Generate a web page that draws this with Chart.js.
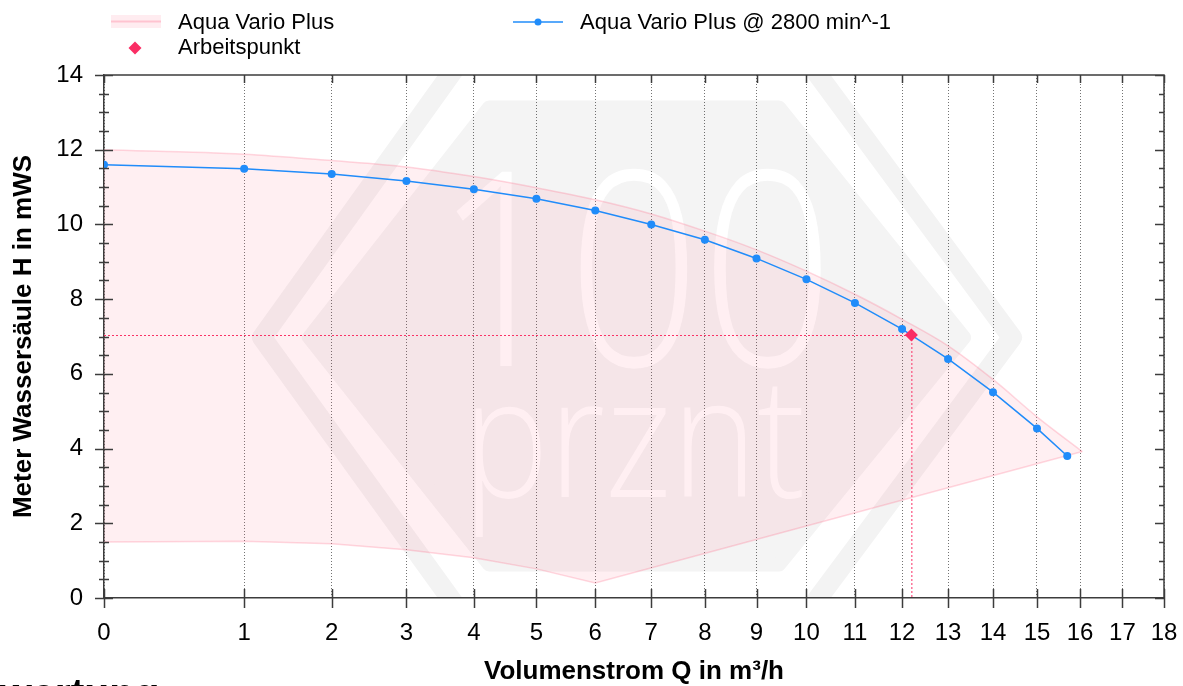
<!DOCTYPE html>
<html>
<head>
<meta charset="utf-8">
<title>Aqua Vario Plus Kennlinie</title>
<script src="https://cdn.jsdelivr.net/npm/chart.js@4.4.1/dist/chart.umd.min.js"></script>
<style>
    html, body { margin: 0; padding: 0; background: #fff; overflow: hidden; }
    #wrap { position: relative; width: 1183px; height: 686px; }
    #pumpChart { position: absolute; left: 0; top: 0; }
    .next-heading {
        position: absolute; left: 0; top: 673px; margin: 0;
        font: bold 41px "Liberation Sans", Arial, sans-serif; line-height: 1;
        color: #000; white-space: nowrap;
    }
</style>
</head>
<body>
<div id="wrap">
    <canvas id="pumpChart" width="1183" height="686"></canvas>
    <div class="next-heading">wertung</div>
</div>
<script>
// Values
const flowTickValues = [0, 1, 2, 3, 4, 5, 6, 7, 8, 9, 10, 11, 12, 13, 14, 15, 16, 17, 18];
const headTickValues = [0, 2, 4, 6, 8, 10, 12, 14];

// pump curve at 2800 min^-1
const pumpQ = [0, 1, 2, 3, 4, 5, 6, 7, 8, 9, 10, 11, 12, 13, 14, 15, 15.7];
const pumpH = [11.60, 11.49, 11.35, 11.16, 10.94, 10.69, 10.37, 10.00, 9.59, 9.09, 8.53, 7.90, 7.20, 6.40, 5.51, 4.54, 3.80];

// operating range of the pump (upper and lower edge)
const rangeUpperQ = [0, 1, 2, 3, 4, 5, 6, 7, 8, 9, 10, 11, 12, 13, 14, 15, 16.05];
const rangeUpperH = [12.00, 11.88, 11.71, 11.54, 11.28, 10.98, 10.66, 10.28, 9.82, 9.32, 8.75, 8.13, 7.46, 6.75, 5.85, 4.85, 3.92];
const rangeLowerQ = [0, 1, 2, 3, 4, 5, 6, 16.05];
const rangeLowerH = [1.50, 1.52, 1.45, 1.29, 1.08, 0.78, 0.40, 3.92];

// Arbeitspunkt
const dutyQ = [12.2];
const dutyH = [7.04];

const FONT = '"Liberation Sans", Arial, Helvetica, sans-serif';
const AXIS_COLOR = '#3c3c3c';
const BLUE = 'rgb(32, 140, 250)';
const RED = 'rgb(250, 45, 100)';
const RANGE_LINE = 'rgba(255, 99, 132, 0.25)';
const RANGE_FILL = 'rgba(255, 99, 132, 0.1)';
const FLOW_EXP = 0.7; // the flow axis is compressed, pixel ~ Q^0.7
const HEAD_MINOR_STEP = 0.5;

const toPoints = (xs, ys) => xs.map((x, i) => ({ x: x, y: ys[i] }));

// power scale for the flow axis
class PowScale extends Chart.LinearScale {
    getPixelForValue(value) {
        if (value === null || value === undefined || isNaN(value)) return NaN;
        const lo = Math.pow(this.min, FLOW_EXP);
        const hi = Math.pow(this.max, FLOW_EXP);
        return this.getPixelForDecimal((Math.pow(Math.max(value, 0), FLOW_EXP) - lo) / (hi - lo));
    }
    getValueForPixel(pixel) {
        const lo = Math.pow(this.min, FLOW_EXP);
        const hi = Math.pow(this.max, FLOW_EXP);
        return Math.pow(lo + this.getDecimalForPixel(pixel) * (hi - lo), 1 / FLOW_EXP);
    }
}
PowScale.id = 'pow';
PowScale.defaults = Chart.LinearScale.defaults;
Chart.register(PowScale);

// light "100 prznt" logo behind the plot
const watermark = {
    id: 'watermark',
    beforeDraw(chart) {
        const { ctx, chartArea: a } = chart;
        const cx = (a.left + a.right) / 2;
        const cy = (a.top + a.bottom) / 2;
        ctx.save();
        ctx.beginPath();
        ctx.rect(a.left, a.top, a.right - a.left, a.bottom - a.top);
        ctx.clip();
        ctx.lineJoin = 'round';

        // outer band
        ctx.strokeStyle = '#f3f3f3';
        ctx.lineWidth = 20;
        ctx.beginPath();
        ctx.moveTo(cx - 172, cy - 278);
        ctx.lineTo(cx + 172, cy - 278);
        ctx.lineTo(cx + 378, cy + 1);
        ctx.lineTo(cx + 172, cy + 278);
        ctx.lineTo(cx - 172, cy + 278);
        ctx.lineTo(cx - 372, cy + 1);
        ctx.closePath();
        ctx.stroke();

        // inner plate
        ctx.fillStyle = '#f4f4f4';
        ctx.strokeStyle = '#f4f4f4';
        ctx.lineWidth = 14;
        ctx.beginPath();
        ctx.moveTo(cx - 145, cy - 229);
        ctx.lineTo(cx + 145, cy - 229);
        ctx.lineTo(cx + 330, cy + 1);
        ctx.lineTo(cx + 145, cy + 228);
        ctx.lineTo(cx - 145, cy + 228);
        ctx.lineTo(cx - 325, cy + 1);
        ctx.closePath();
        ctx.fill();
        ctx.stroke();

        // logo text
        ctx.fillStyle = '#ffffff';
        ctx.textAlign = 'center';
        ctx.textBaseline = 'alphabetic';
        ctx.translate(cx, 0);
        ctx.scale(0.86, 1);
        ctx.font = '350 272px "Open Sans", Roboto, sans-serif';
        ctx.fillText('100', 0, 366);
        ctx.font = '350 168px "Open Sans", Roboto, sans-serif';
        ctx.fillText('prznt', 0, 497);
        ctx.restore();
    }
};

// dashed guides from the axes to the Arbeitspunkt
const dutyGuides = {
    id: 'dutyGuides',
    beforeDatasetsDraw(chart) {
        const { ctx, chartArea: a, scales: { x, y } } = chart;
        ctx.save();
        ctx.strokeStyle = RED;
        ctx.lineWidth = 1;
        ctx.setLineDash([2, 2]);
        dutyQ.forEach((q, i) => {
            const px = x.getPixelForValue(q);
            const py = y.getPixelForValue(dutyH[i]);
            ctx.beginPath();
            ctx.moveTo(a.left, py + 0.5);
            ctx.lineTo(px, py + 0.5);
            ctx.moveTo(px + 0.5, py);
            ctx.lineTo(px + 0.5, a.bottom);
            ctx.stroke();
        });
        ctx.restore();
    }
};

// box frame with tick marks on all sides
const axisFrame = {
    id: 'axisFrame',
    afterDatasetsDraw(chart) {
        const { ctx, chartArea: a, scales: { x, y } } = chart;
        ctx.save();
        ctx.strokeStyle = AXIS_COLOR;
        ctx.lineWidth = 1.5;
        ctx.beginPath();
        ctx.moveTo(a.left, a.top);
        ctx.lineTo(a.right, a.top);
        ctx.lineTo(a.right, a.bottom);
        flowTickValues.forEach(v => {
            const px = Math.round(x.getPixelForValue(v)) + 0.5;
            ctx.moveTo(px, a.bottom + 10);
            ctx.lineTo(px, a.bottom - 9);
            ctx.moveTo(px, a.top);
            ctx.lineTo(px, a.top + 8);
        });
        const yMax = headTickValues[headTickValues.length - 1];
        for (let v = 0; v <= yMax; v += HEAD_MINOR_STEP) {
            const py = Math.round(y.getPixelForValue(v)) + 0.5;
            const len = headTickValues.includes(v) ? 9 : 5;
            ctx.moveTo(a.left - len, py);
            ctx.lineTo(a.left + len, py);
            ctx.moveTo(a.right - len, py);
            ctx.lineTo(a.right, py);
        }
        ctx.stroke();
        ctx.restore();
    }
};

// legend in two columns like the original
const pumpLegend = {
    id: 'pumpLegend',
    afterDraw(chart) {
        const ctx = chart.ctx;
        ctx.save();
        ctx.font = '22px ' + FONT;
        ctx.fillStyle = '#000';
        ctx.textBaseline = 'alphabetic';
        ctx.textAlign = 'left';

        // Aqua Vario Plus (range)
        ctx.fillStyle = 'rgba(255, 99, 132, 0.12)';
        ctx.fillRect(111, 15, 50, 13);
        ctx.strokeStyle = 'rgba(255, 99, 132, 0.3)';
        ctx.lineWidth = 2;
        ctx.beginPath();
        ctx.moveTo(111, 21.5);
        ctx.lineTo(161, 21.5);
        ctx.stroke();
        ctx.fillStyle = '#000';
        ctx.fillText('Aqua Vario Plus', 178, 28.5);

        // pump curve
        ctx.strokeStyle = BLUE;
        ctx.lineWidth = 1.5;
        ctx.beginPath();
        ctx.moveTo(513, 22);
        ctx.lineTo(563, 22);
        ctx.stroke();
        ctx.fillStyle = BLUE;
        ctx.beginPath();
        ctx.arc(538, 22, 3.5, 0, Math.PI * 2);
        ctx.fill();
        ctx.fillStyle = '#000';
        ctx.fillText('Aqua Vario Plus @ 2800 min^-1', 580, 28.5);

        // Arbeitspunkt
        ctx.fillStyle = RED;
        ctx.beginPath();
        ctx.moveTo(135, 41.5);
        ctx.lineTo(141.5, 48);
        ctx.lineTo(135, 54.5);
        ctx.lineTo(128.5, 48);
        ctx.closePath();
        ctx.fill();
        ctx.fillStyle = '#000';
        ctx.fillText('Arbeitspunkt', 178, 54);
        ctx.restore();
    }
};

new Chart(document.getElementById('pumpChart'), {
    type: 'line',
    data: {
        datasets: [
            {
                label: 'Aqua Vario Plus',
                data: toPoints(rangeUpperQ, rangeUpperH),
                borderColor: RANGE_LINE,
                backgroundColor: RANGE_FILL,
                borderWidth: 1.5,
                pointRadius: 0,
                cubicInterpolationMode: 'monotone',
                fill: '+1',
                order: 3
            },
            {
                label: 'Aqua Vario Plus min',
                data: toPoints(rangeLowerQ, rangeLowerH),
                borderColor: RANGE_LINE,
                borderWidth: 1.5,
                pointRadius: 0,
                tension: 0,
                fill: false,
                order: 3
            },
            {
                label: 'Aqua Vario Plus @ 2800 min^-1',
                data: toPoints(pumpQ, pumpH),
                borderColor: BLUE,
                backgroundColor: BLUE,
                borderWidth: 1.5,
                pointRadius: 4,
                pointBorderWidth: 0,
                tension: 0,
                fill: false,
                order: 1
            },
            {
                label: 'Arbeitspunkt',
                data: toPoints(dutyQ, dutyH),
                showLine: false,
                pointStyle: 'rectRot',
                pointRadius: 6.5,
                pointBorderWidth: 0,
                backgroundColor: RED,
                borderColor: RED,
                order: 0
            }
        ]
    },
    options: {
        responsive: false,
        animation: false,
        events: [],
        layout: { padding: { top: 75, right: 19, left: 0, bottom: 0 } },
        plugins: {
            legend: { display: false },
            tooltip: { enabled: false }
        },
        scales: {
            x: {
                type: 'pow',
                min: 0,
                max: 18,
                afterBuildTicks: s => { s.ticks = flowTickValues.map(v => ({ value: v })); },
                afterFit: s => { s.height = 88; s.paddingLeft = 0; s.paddingRight = 0; },
                grid: { color: 'rgba(0, 0, 0, 0.55)', lineWidth: 1, drawTicks: false },
                border: { color: AXIS_COLOR, width: 1.5, dash: [1, 2] },
                ticks: { color: '#000', font: { family: FONT, size: 24 }, padding: 21, maxRotation: 0, autoSkip: false },
                title: {
                    display: true,
                    text: 'Volumenstrom Q in m³/h',
                    color: '#000',
                    font: { family: FONT, size: 26, weight: 'bold', lineHeight: 1.1 },
                    padding: { top: 0, bottom: 0 }
                }
            },
            y: {
                min: 0,
                max: 14,
                afterBuildTicks: s => { s.ticks = headTickValues.map(v => ({ value: v })); },
                afterFit: s => { s.width = 104; s.paddingTop = 0; s.paddingBottom = 0; },
                grid: { drawOnChartArea: false, drawTicks: false },
                border: { color: AXIS_COLOR, width: 1.5 },
                ticks: { color: '#000', font: { family: FONT, size: 24 }, padding: 21 },
                title: {
                    display: true,
                    text: 'Meter Wassersäule H in mWS',
                    color: '#000',
                    font: { family: FONT, size: 26, weight: 'bold', lineHeight: 1.1 },
                    padding: { top: 10, bottom: 0 }
                }
            }
        }
    },
    plugins: [watermark, dutyGuides, axisFrame, pumpLegend]
});
</script>
</body>
</html>
